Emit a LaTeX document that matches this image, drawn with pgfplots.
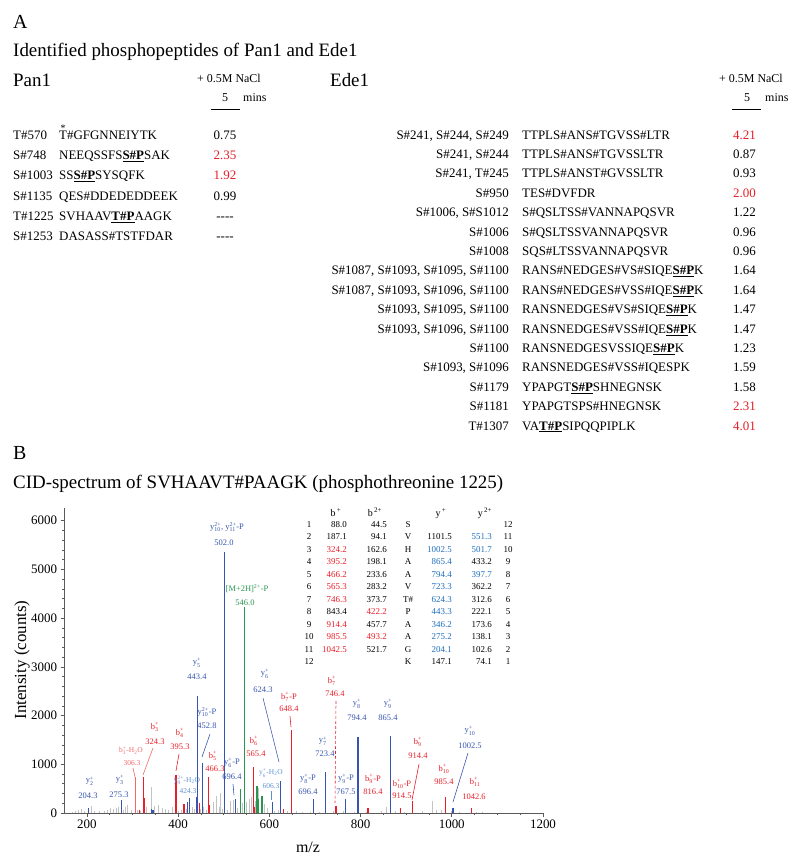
\documentclass[border=0pt]{standalone}
\usepackage{fontspec}
\setmainfont{Liberation Serif}
\usepackage{amsmath}
\usepackage{pgfplots}
\pgfplotsset{compat=1.18}

\definecolor{pr}{RGB}{232,30,40}
\definecolor{plr}{RGB}{240,105,105}
\definecolor{pb}{RGB}{55,85,175}
\definecolor{plb}{RGB}{95,145,210}
\definecolor{tb}{RGB}{30,110,190}
\definecolor{pg}{RGB}{40,150,80}
\definecolor{pgr}{RGB}{195,195,195}
\definecolor{axc}{RGB}{90,90,90}

\newcommand{\fs}[1]{\fontsize{#1}{#1}\selectfont}
\newcommand{\SP}[1]{\underline{\textbf{#1}}}
\newcommand{\dash}{-{}-{}-{}-}
% Pan1 row: baseline, site, sequence, colour, value
\newcommand{\prow}[5]{%
  \node[anchor=base west,inner sep=0pt,font=\fs{13}] at (13,-#1) {#2};
  \node[anchor=base west,inner sep=0pt,font=\fs{13}] at (59,-#1) {#3};
  \node[anchor=base,inner sep=0pt,font=\fs{13},text=#4] at (225,-#1) {#5};}
% Ede1 row
\newcommand{\erow}[5]{%
  \node[anchor=base east,inner sep=0pt,font=\fs{13}] at (509,-#1) {#2};
  \node[anchor=base west,inner sep=0pt,font=\fs{13}] at (522,-#1) {#3};
  \node[anchor=base,inner sep=0pt,font=\fs{13},text=#4] at (744.5,-#1) {#5};}
% peak label: x, y(center), colour, text
\newcommand{\lab}[4]{\node[inner sep=0pt,font=\fs{8.5},text=#3] at (#1,-#2) {#4};}
\newcommand{\labs}[4]{\node[inner sep=0pt,font=\fs{7.5},text=#3] at (#1,-#2) {#4};}
\newcommand{\ion}[3]{$\text{#1}_{\text{#2}}^{\text{#3}}$}

\begin{document}
\begin{tikzpicture}[x=1bp,y=1bp]
\useasboundingbox (0,0) rectangle (800,-860);

% ---------------- Part A ----------------
\node[anchor=base west,inner sep=0pt,font=\fs{20}] at (13,-28) {A};
\node[anchor=base west,inner sep=0pt,font=\fs{19}] at (13,-56) {Identified phosphopeptides of Pan1 and Ede1};
\node[anchor=base west,inner sep=0pt,font=\fs{19}] at (13,-86) {Pan1};
\node[anchor=base west,inner sep=0pt,font=\fs{19}] at (330,-86) {Ede1};

\node[anchor=base,inner sep=0pt,font=\fs{12}] at (229,-82) {+ 0.5M NaCl};
\node[anchor=base,inner sep=0pt,font=\fs{12}] at (225,-101) {5};
\node[anchor=base west,inner sep=0pt,font=\fs{12}] at (243,-101) {mins};
\draw[line width=0.9bp] (211,-109.5) -- (240,-109.5);

\node[anchor=base,inner sep=0pt,font=\fs{12}] at (751,-82) {+ 0.5M NaCl};
\node[anchor=base,inner sep=0pt,font=\fs{12}] at (747,-101) {5};
\node[anchor=base west,inner sep=0pt,font=\fs{12}] at (765,-101) {mins};
\draw[line width=0.9bp] (732,-109.5) -- (761,-109.5);

\prow{139.5}{T\#570}{\rlap{\raisebox{8bp}{\hspace{1.5bp}\fs{10}*}}T\#GFGNNEIYTK}{black}{0.75}
\prow{159.7}{S\#748}{NEEQSSFS\SP{S\#P}SAK}{pr}{2.35}
\prow{179.9}{S\#1003}{SS\SP{S\#P}SYSQFK}{pr}{1.92}
\prow{200.1}{S\#1135}{QES\#DDEDEDDEEK}{black}{0.99}
\prow{220.3}{T\#1225}{SVHAAV\SP{T\#P}AAGK}{black}{\dash}
\prow{240.5}{S\#1253}{DASASS\#TSTFDAR}{black}{\dash}

\erow{139.0}{S\#241, S\#244, S\#249}{TTPLS\#ANS\#TGVSS\#LTR}{pr}{4.21}
\erow{158.4}{S\#241, S\#244}{TTPLS\#ANS\#TGVSSLTR}{black}{0.87}
\erow{177.8}{S\#241, T\#245}{TTPLS\#ANST\#GVSSLTR}{black}{0.93}
\erow{197.2}{S\#950}{TES\#DVFDR}{pr}{2.00}
\erow{216.6}{S\#1006, S\#S1012}{S\#QSLTSS\#VANNAPQSVR}{black}{1.22}
\erow{236.0}{S\#1006}{S\#QSLTSSVANNAPQSVR}{black}{0.96}
\erow{255.4}{S\#1008}{SQS\#LTSSVANNAPQSVR}{black}{0.96}
\erow{274.8}{S\#1087, S\#1093, S\#1095, S\#1100}{RANS\#NEDGES\#VS\#SIQE\SP{S\#P}K}{black}{1.64}
\erow{294.2}{S\#1087, S\#1093, S\#1096, S\#1100}{RANS\#NEDGES\#VSS\#IQE\SP{S\#P}K}{black}{1.64}
\erow{313.6}{S\#1093, S\#1095, S\#1100}{RANSNEDGES\#VS\#SIQE\SP{S\#P}K}{black}{1.47}
\erow{333.0}{S\#1093, S\#1096, S\#1100}{RANSNEDGES\#VSS\#IQE\SP{S\#P}K}{black}{1.47}
\erow{352.4}{S\#1100}{RANSNEDGESVSSIQE\SP{S\#P}K}{black}{1.23}
\erow{371.8}{S\#1093, S\#1096}{RANSNEDGES\#VSS\#IQESPK}{black}{1.59}
\erow{391.2}{S\#1179}{YPAPGT\SP{S\#P}SHNEGNSK}{black}{1.58}
\erow{410.6}{S\#1181}{YPAPGTSPS\#HNEGNSK}{pr}{2.31}
\erow{430.0}{T\#1307}{VA\SP{T\#P}SIPQQPIPLK}{pr}{4.01}

% ---------------- Part B ----------------
\node[anchor=base west,inner sep=0pt,font=\fs{20}] at (13,-459) {B};
\node[anchor=base west,inner sep=0pt,font=\fs{19}] at (13,-488) {CID-spectrum of SVHAAVT\#PAAGK (phosphothreonine 1225)};

\begin{axis}[
  at={(64bp,-813bp)}, anchor=south west, scale only axis,
  width=479bp, height=305bp,
  xmin=150, xmax=1200, ymin=0, ymax=6260,
  axis lines=left, axis line style={-, axc, line width=0.8bp},
  xtick={200,400,...,1200}, ytick={0,1000,...,6000},
  minor x tick num=3, minor y tick num=4,
  tick align=outside, major tick length=3.5bp, minor tick length=2bp,
  tick style={axc, line width=0.6bp},
  tick label style={font=\fs{13}},
  /pgf/number format/assume math mode=true,
  /pgf/number format/1000 sep={},
  clip=false,
]
\addplot[ycomb, draw=pgr, line width=1bp] coordinates {
(168,30)(175,50)(182,70)(188,80)(195,40)(210,150)(216,40)(228,50)(238,40)(246,60)
(252,110)(258,90)(264,100)(270,120)(280,60)(284,120)(290,160)(298,60)(312,70)(318,40)
(331,120)(341,530)(349,140)(357,160)(366,100)(372,90)(380,60)(388,120)(401,50)(407,70)
(418,90)(431,130)(436,90)(449,90)(456,130)(463,60)(478,230)(484,340)(490,130)(493,420)
(498,80)(509,70)(516,240)(521,270)(531,110)(542,200)(551,230)(556,280)(561,320)(566,380)
(570,250)(576,520)(590,190)(596,110)(612,50)(621,60)(640,40)(660,40)(672,30)(690,30)
(710,30)(740,40)(762,40)(787,30)(812,30)(845,40)(856,120)(876,50)(896,30)(935,50)
(958,240)(966,60)(978,70)(1000,40)(1017,30)(1055,30)(1068,20)};
\addplot[ycomb, draw=pb, line width=1.2bp] coordinates {
(204.3,110)(275.3,260)(342,90)(345,70)(396,140)(421,220)(424.3,310)(440,330)(443.4,2400)
(452.8,1030)(502.0,5350)(526.4,290)(606.3,230)(624.3,660)(696.4,290)(723.4,840)(767.5,290)
(794.4,1560)(865.4,1580)(1002.5,110)};
\addplot[ycomb, draw=plr, line width=1.2bp] coordinates {(306.3,740)};
\addplot[ycomb, draw=pr, line width=1.2bp] coordinates {
(316,70)(324.3,740)(326,300)(395.3,790)(413,190)(447,200)(466.3,745)(469,170)(565.4,950)
(568,120)(631,80)(648.4,1700)(746.4,140)(816.4,100)(887.5,110)(914.4,245)(985.4,330)(1042.6,100)};
\addplot[ycomb, draw=pg, line width=1.2bp] coordinates {
(537,490)(546.0,4230)(573,560)(577,280)(584,350)};
\end{axis}

\node[rotate=90,inner sep=0pt,font=\fs{17}] at (22,-660) {Intensity (counts)};
\node[inner sep=0pt,font=\fs{16}] at (308,-847) {m/z};

% fragment table
\node[anchor=base,inner sep=0pt,font=\fs{10}] at (336,-516) {b\textsuperscript{\,+}};
\node[anchor=base,inner sep=0pt,font=\fs{10}] at (375,-516) {b\textsuperscript{\,2+}};
\node[anchor=base,inner sep=0pt,font=\fs{10}] at (441,-516) {y\textsuperscript{\,+}};
\node[anchor=base,inner sep=0pt,font=\fs{10}] at (485,-516) {y\textsuperscript{\,2+}};
\foreach \n/\bp/\cb/\bd/\cd/\r/\yp/\cy/\yd/\cz/\m in {
1/88.0/black/44.5/black/S/{}/black/{}/black/12,
2/187.1/black/94.1/black/V/1101.5/black/551.3/tb/11,
3/324.2/pr/162.6/black/H/1002.5/tb/501.7/tb/10,
4/395.2/pr/198.1/black/A/865.4/tb/433.2/black/9,
5/466.2/pr/233.6/black/A/794.4/tb/397.7/tb/8,
6/565.3/pr/283.2/black/V/723.3/tb/362.2/black/7,
7/746.3/pr/373.7/black/T\#/624.3/tb/312.6/black/6,
8/843.4/black/422.2/pr/P/443.3/tb/222.1/black/5,
9/914.4/pr/457.7/black/A/346.2/tb/173.6/black/4,
10/985.5/pr/493.2/pr/A/275.2/tb/138.1/black/3,
11/1042.5/pr/521.7/black/G/204.1/tb/102.6/black/2,
12/{}/black/{}/black/K/147.1/black/74.1/black/1}{
  \pgfmathsetmacro\yy{-(527.3+12.5*(\n-1))}
  \node[anchor=base,inner sep=0pt,font=\fs{9}] at (309,\yy) {\n};
  \node[anchor=base east,inner sep=0pt,font=\fs{9},text=\cb] at (347,\yy) {\bp};
  \node[anchor=base east,inner sep=0pt,font=\fs{9},text=\cd] at (387,\yy) {\bd};
  \node[anchor=base,inner sep=0pt,font=\fs{9}] at (408,\yy) {\r};
  \node[anchor=base east,inner sep=0pt,font=\fs{9},text=\cy] at (452,\yy) {\yp};
  \node[anchor=base east,inner sep=0pt,font=\fs{9},text=\cz] at (492,\yy) {\yd};
  \node[anchor=base,inner sep=0pt,font=\fs{9}] at (508,\yy) {\m};
}

% peak labels
\lab{90}{781}{pb}{\ion{y}{2}{+}}      \lab{88}{796}{pb}{204.3}
\lab{120}{780}{pb}{\ion{y}{3}{+}}     \lab{119}{795}{pb}{275.3}
\labs{131}{751}{plr}{\ion{b}{3}{+}-H$_\text{2}$O} \labs{132}{763}{plr}{306.3}
\draw[plr,line width=0.6bp] (133,-768) -- (135,-777);
\lab{155}{727}{pr}{\ion{b}{3}{+}}     \lab{155}{742}{pr}{324.3}
\draw[plr,line width=0.6bp] (153,-748) -- (143,-775);
\lab{180}{733}{pr}{\ion{b}{4}{+}}     \lab{180}{747}{pr}{395.3}
\draw[pr,line width=0.6bp] (179,-754) -- (176,-771);
\lab{197}{663}{pb}{\ion{y}{5}{+}}     \lab{197}{677}{pb}{443.4}
\lab{207}{712}{pb}{\ion{y}{10}{2+}-P} \lab{207}{726}{pb}{452.8}
\draw[pb,line width=0.6bp] (210,-734) -- (202,-757);
\labs{187}{780}{plb}{\ion{y}{9}{2+}-H$_\text{2}$O} \labs{188}{791}{plb}{424.3}
\lab{213}{756}{pr}{\ion{b}{5}{+}}     \lab{215}{769}{pr}{466.3}
\lab{227}{527}{pb}{\ion{y}{10}{2+}, \ion{y}{11}{2+}-P} \lab{224}{543}{pb}{502.0}
\lab{247}{589}{pg}{[M+2H]$^\text{2+}$-P} \lab{245}{603}{pg}{546.0}
\lab{232}{763}{pb}{\ion{y}{6}{+}-P}   \lab{232}{777}{pb}{696.4}
\draw[pb,line width=0.6bp] (233,-784) -- (234,-795);
\lab{254}{741}{pr}{\ion{b}{6}{+}}     \lab{256}{754}{pr}{565.4}
\labs{271}{773}{plb}{\ion{y}{6}{+}-H$_\text{2}$O} \labs{271}{786}{plb}{606.3}
\draw[plb,line width=0.6bp] (271,-791) -- (271,-800);
\lab{265}{674}{pb}{\ion{y}{6}{+}}     \lab{263}{690}{pb}{624.3}
\draw[pb,line width=0.6bp] (263,-698) -- (279,-762);
\lab{289}{697}{pr}{\ion{b}{7}{+}-P}   \lab{289}{709}{pr}{648.4}
\draw[pr,line width=0.6bp] (290,-716) -- (291,-727);
\lab{332}{681}{pr}{\ion{b}{7}{+}}     \lab{335}{694}{pr}{746.4}
\draw[pr,line width=0.6bp,densely dashed] (336,-701) -- (335,-803);
\lab{323}{741}{pb}{\ion{y}{7}{+}}     \lab{325}{754}{pb}{723.4}
\lab{308}{779}{pb}{\ion{y}{8}{+}-P}   \lab{308}{792}{pb}{696.4}
\lab{346}{779}{pb}{\ion{y}{9}{+}-P}   \lab{346}{792}{pb}{767.5}
\lab{373}{779}{pr}{\ion{b}{9}{+}-P}   \lab{373}{792}{pr}{816.4}
\lab{357}{704}{pb}{\ion{y}{8}{+}}     \lab{357}{718}{pb}{794.4}
\lab{388}{704}{pb}{\ion{y}{9}{+}}     \lab{388}{718}{pb}{865.4}
\lab{402}{784}{pr}{\ion{b}{10}{+}-P}  \lab{402}{796}{pr}{914.5}
\lab{418}{742}{pr}{\ion{b}{9}{+}}     \lab{418}{756}{pr}{914.4}
\draw[pr,line width=0.6bp] (419,-764) -- (412,-800);
\lab{444}{769}{pr}{\ion{b}{10}{+}}    \lab{444}{782}{pr}{985.4}
\lab{470}{731}{pb}{\ion{y}{10}{+}}    \lab{470}{746}{pb}{1002.5}
\draw[pb,line width=0.6bp] (468,-753) -- (453,-802);
\lab{475}{782}{pr}{\ion{b}{11}{+}}    \lab{474}{797}{pr}{1042.6}

\end{tikzpicture}
\end{document}
